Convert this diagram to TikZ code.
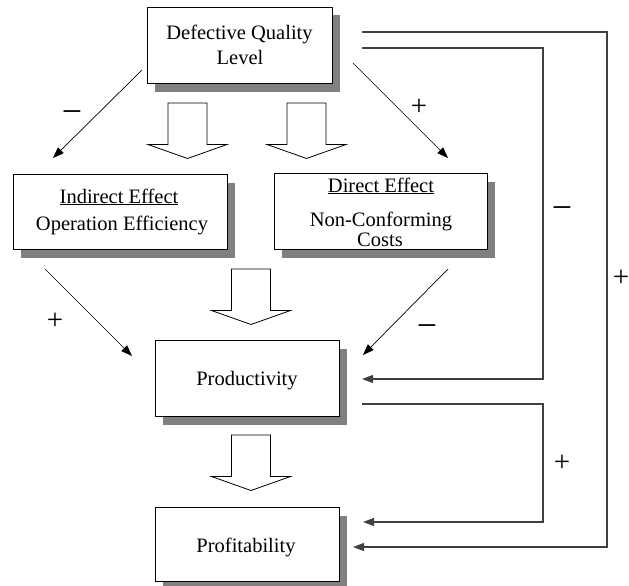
\documentclass[tikz,border=0pt]{standalone}
\usepackage{fontspec}
\setmainfont{Liberation Serif}
\usetikzlibrary{shadows,arrows.meta}
\definecolor{shadowgray}{HTML}{808080}
\definecolor{conncol}{HTML}{404040}
\tikzset{
 box/.style={draw=black,line width=0.9pt,fill=white,inner sep=0pt,
   drop shadow={shadow xshift=8pt,shadow yshift=-8.5pt,fill=shadowgray,opacity=1}},
 lbl/.style={font=\fontsize{20.5}{24}\selectfont,anchor=base,inner sep=0pt},
 sign/.style={font=\fontsize{29}{30}\selectfont,inner sep=0pt},
 minus/.style={font=\fontsize{36}{36}\selectfont,inner sep=0pt},
 arr/.style={line width=0.7pt,-{Triangle[length=11pt,width=8pt]}},
 conn/.style={draw=conncol,line width=1.1pt,-{Triangle[length=11pt,width=8pt]}},
 hollow/.style={draw=black,line width=0.8pt,fill=white},
 harrow/.pic={\draw[hollow] (-19.5,0) -- (19.5,0) -- (19.5,41.5) -- (39.5,41.5) -- (0,55.5) -- (-39.5,41.5) -- (-19.5,41.5) -- cycle;}
}
\begin{document}
\begin{tikzpicture}[x=1pt,y=-1pt]
\useasboundingbox (0,0) rectangle (629,586);
% boxes
\node[box,minimum width=185pt,minimum height=76pt] (top) at (239.5,45) {};
\node[box,minimum width=214pt,minimum height=75pt] (indirect) at (120,211.5) {};
\node[box,minimum width=213pt,minimum height=76pt] (direct) at (380.5,211) {};
\node[box,minimum width=184pt,minimum height=76pt] (prod) at (247,378) {};
\node[box,minimum width=184pt,minimum height=74pt] (prof) at (247,544) {};
% texts
\node[lbl] (t1) at (239.5,40) {Defective Quality};
\node[lbl] (t2) at (240,65) {Level};
\node[lbl] (i1) at (119,203) {\underline{Indirect Effect}};
\node[lbl] (i2) at (122,230) {Operation Efficiency};
\node[lbl] (e1) at (381,192) {\underline{Direct Effect}};
\node[lbl] (e2) at (381,226) {Non-Conforming};
\node[lbl] (e3) at (380,246) {Costs};
\node[lbl] (p1) at (247,385) {Productivity};
\node[lbl] (p2) at (246,552) {Profitability};
% hollow arrows
\pic at (187.5,103) {harrow};
\pic at (306.5,103) {harrow};
\pic at (251,269) {harrow};
\pic at (251,435) {harrow};
% diagonal connectors
\coordinate (d1s) at (142,70);  \coordinate (d1e) at (53,158);
\coordinate (d2s) at (353,63);  \coordinate (d2e) at (448,158);
\coordinate (d3s) at (45,269);  \coordinate (d3e) at (132,356);
\coordinate (d4s) at (448,269); \coordinate (d4e) at (363,355);
\draw[arr] (d1s) -- (d1e);
\draw[arr] (d2s) -- (d2e);
\draw[arr] (d3s) -- (d3e);
\draw[arr] (d4s) -- (d4e);
% right connectors
\coordinate (r1s) at (362,32);  \coordinate (r1c) at (607,547); \coordinate (r1e) at (353,547);
\coordinate (r2s) at (362,48);  \coordinate (r2c) at (543,379); \coordinate (r2e) at (362,379);
\coordinate (r3s) at (362,404); \coordinate (r3c) at (543,522); \coordinate (r3e) at (363,522);
\draw[conn] (r1s) -| (r1c) -- (r1e);
\draw[conn] (r2s) -| (r2c) -- (r2e);
\draw[conn] (r3s) -| (r3c) -- (r3e);
% signs
\node[minus] (s1) at (72,117) {−};
\node[sign] (s2) at (419,107) {+};
\node[sign] (s3) at (55,321) {+};
\node[minus] (s4) at (427,331) {−};
\node[minus] (s5) at (562,213) {−};
\node[sign] (s6) at (621,278) {+};
\node[sign] (s7) at (562,463) {+};
\end{tikzpicture}
\end{document}
